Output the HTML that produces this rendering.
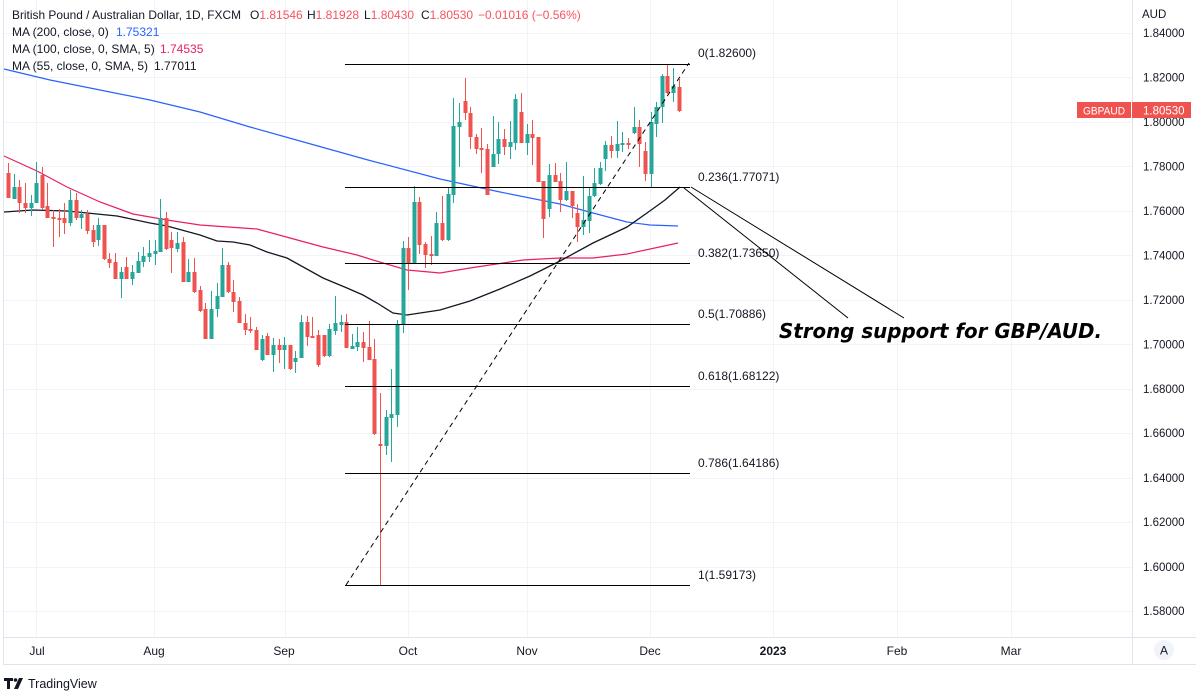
<!DOCTYPE html>
<html><head><meta charset="utf-8"><style>
html,body{margin:0;padding:0;background:#fff;width:1196px;height:695px;overflow:hidden}
svg{display:block}
text{font-family:"Liberation Sans",Arial,sans-serif}
</style></head><body>
<svg width="1196" height="695" viewBox="0 0 1196 695" xmlns="http://www.w3.org/2000/svg">
<rect width="1196" height="695" fill="#fff"/>
<!-- grid -->
<g stroke="#f0f3fa" stroke-width="1">
<path d="M4,33.5H1132M4,77.5H1132M4,122.5H1132M4,166.5H1132M4,211.5H1132M4,255.5H1132M4,300.5H1132M4,344.5H1132M4,389.5H1132M4,433.5H1132M4,478.5H1132M4,522.5H1132M4,567.5H1132M4,611.5H1132"/>
<path d="M36.5,0V637M154.5,0V637M285.5,0V637M408.5,0V637M527.5,0V637M650.5,0V637M773.5,0V637M897.5,0V637M1011.5,0V637"/>
</g>
<!-- frame -->
<g stroke="#e0e3eb" stroke-width="1" fill="none">
<path d="M3.5,0V664.5H1196"/>
<path d="M3,637.5H1196"/>
<path d="M1132.5,0V664"/>
</g>

<!-- MAs -->
<polyline fill="none" stroke="#2962ff" stroke-width="1.2" points="4,69 50,80 100,90 150,100 200,112 250,127 300,141 368,160 440,179 500,192 560,204 593,213 627,222 650,225 678,226"/>
<polyline fill="none" stroke="#e91e63" stroke-width="1.2" points="4,156 37,171 67,187 100,202 133,214 167,220 200,225 257,229 290,238 323,247 357,255 373,260 407,270 440,273 470,268 523,260 560,258 593,258 627,254 678,243"/>
<polyline fill="none" stroke="#131722" stroke-width="1.3" points="4,212 33,210 67,211 87,213 117,216 150,223 167,226 200,235 217,241 233,242 250,245 267,252 287,258 323,278 347,288 363,295 377,303 393,313 407,315 440,310 470,301 500,289 530,276 560,261 593,243 627,227 647,213 665,200 680,187"/>

<!-- green candles -->
<path fill="none" stroke="#26a69a" stroke-width="1" d="M14.5,174V199M31.5,195V216M36.5,162V203M70.5,190V226M81.5,210V229M98.5,218V246M121.5,267V298M132.5,265V285M138.5,252V273M143.5,247V267M149.5,240V262M155.5,240V265M160.5,199V252M177.5,232V252M188.5,259V282M211.5,291V339M217.5,283V317M222.5,248V297M262.5,335V361M273.5,338V372M284.5,337V369M295.5,351V373M301.5,315V358M329.5,324V357M335.5,296V335M341.5,315V332M352.5,334V349M357.5,327V351M386.5,410V455M391.5,369V462M397.5,320V427M403.5,241V333M414.5,186V264M436.5,212V256M448.5,188V241M453.5,98V203M459.5,103V167M493.5,116V167M498.5,122V164M510.5,121V159M515.5,94V150M527.5,124V155M549.5,164V217M566.5,162V201M583.5,176V235M589.5,187V233M594.5,168V197M600.5,162V185M605.5,141V171M617.5,121V158M622.5,132V152M634.5,107V134M651.5,112V187M656.5,102V137M662.5,74V123M673.5,68V102"/>
<path fill="#26a69a" d="M12.5,187h4V199h-4ZM29.5,203h4V208h-4ZM34.5,183h4V203h-4ZM68.5,200h4V223h-4ZM79.5,214h4V218h-4ZM96.5,225h4V240h-4ZM119.5,272h4V279h-4ZM130.5,272h4V279h-4ZM136.5,261h4V273h-4ZM141.5,256h4V262h-4ZM147.5,253h4V257h-4ZM153.5,251h4V254h-4ZM158.5,218h4V252h-4ZM175.5,243h4V249h-4ZM186.5,272h4V282h-4ZM209.5,309h4V339h-4ZM215.5,296h4V309h-4ZM220.5,265h4V297h-4ZM260.5,339h4V360h-4ZM271.5,345h4V355h-4ZM282.5,345h4V350h-4ZM293.5,358h4V362h-4ZM299.5,322h4V358h-4ZM327.5,329h4V356h-4ZM333.5,323h4V331h-4ZM339.5,322h4V325h-4ZM350.5,346h4V349h-4ZM355.5,342h4V347h-4ZM384.5,417h4V446h-4ZM389.5,414h4V418h-4ZM395.5,324h4V415h-4ZM401.5,248h4V325h-4ZM412.5,202h4V264h-4ZM434.5,223h4V256h-4ZM446.5,194h4V240h-4ZM451.5,126h4V195h-4ZM457.5,122h4V127h-4ZM491.5,154h4V167h-4ZM496.5,139h4V154h-4ZM508.5,142h4V147h-4ZM513.5,99h4V143h-4ZM525.5,134h4V143h-4ZM547.5,175h4V209h-4ZM564.5,191h4V200h-4ZM581.5,220h4V227h-4ZM587.5,196h4V221h-4ZM592.5,183h4V196h-4ZM598.5,168h4V184h-4ZM603.5,145h4V159h-4ZM615.5,144h4V151h-4ZM620.5,143h4V145h-4ZM632.5,127h4V133h-4ZM649.5,122h4V174h-4ZM654.5,107h4V124h-4ZM660.5,76h4V107h-4ZM671.5,86h4V93h-4Z"/>

<!-- red candles -->
<path fill="none" stroke="#ef5350" stroke-width="1" d="M8.5,163V198M19.5,180V213M25.5,183V213M42.5,167V210M47.5,183V218M53.5,210V247M59.5,209V237M64.5,203V234M76.5,193V220M87.5,210V234M93.5,225V247M104.5,225V260M109.5,253V268M115.5,253V279M126.5,257V279M166.5,212V250M171.5,232V273M183.5,237V282M194.5,258V293M200.5,286V312M205.5,303V339M228.5,262V293M233.5,280V312M239.5,297V323M245.5,314V335M250.5,317V333M256.5,327V350M267.5,333V355M279.5,339V363M290.5,345V370M307.5,316V346M312.5,317V338M318.5,330V367M324.5,335V357M346.5,314V348M363.5,332V362M369.5,321V360M374.5,339V435M380.5,393V585M408.5,237V290M419.5,197V254M425.5,242V268M431.5,236V265M442.5,196V241M465.5,78V120M470.5,107V149M476.5,134V154M481.5,128V173M487.5,144V195M504.5,129V155M521.5,93V143M532.5,120V165M538.5,137V182M543.5,181V238M555.5,163V182M560.5,173V212M572.5,191V218M577.5,204V242M611.5,136V158M628.5,138V149M639.5,120V167M645.5,142V181M667.5,65V94M679.5,79V112"/>
<path fill="#ef5350" d="M6.5,173h4V198h-4ZM17.5,187h4V203h-4ZM23.5,203h4V208h-4ZM40.5,175h4V208h-4ZM45.5,206h4V218h-4ZM51.5,217h4V219h-4ZM57.5,218h4V220h-4ZM62.5,218h4V223h-4ZM74.5,200h4V218h-4ZM85.5,214h4V231h-4ZM91.5,230h4V242h-4ZM102.5,225h4V259h-4ZM107.5,259h4V263h-4ZM113.5,262h4V279h-4ZM124.5,267h4V279h-4ZM164.5,218h4V249h-4ZM169.5,240h4V248h-4ZM181.5,242h4V282h-4ZM192.5,272h4V292h-4ZM198.5,290h4V311h-4ZM203.5,309h4V339h-4ZM226.5,265h4V292h-4ZM231.5,292h4V302h-4ZM237.5,301h4V323h-4ZM243.5,323h4V330h-4ZM248.5,329h4V331h-4ZM254.5,330h4V350h-4ZM265.5,336h4V355h-4ZM277.5,345h4V350h-4ZM288.5,345h4V369h-4ZM305.5,322h4V337h-4ZM310.5,336h4V338h-4ZM316.5,335h4V365h-4ZM322.5,335h4V356h-4ZM344.5,322h4V348h-4ZM361.5,342h4V348h-4ZM367.5,347h4V360h-4ZM372.5,359h4V434h-4ZM378.5,444h4V446h-4ZM406.5,248h4V263h-4ZM417.5,202h4V245h-4ZM423.5,244h4V255h-4ZM429.5,254h4V256h-4ZM440.5,223h4V240h-4ZM463.5,101h4V113h-4ZM468.5,113h4V137h-4ZM474.5,137h4V149h-4ZM479.5,148h4V150h-4ZM485.5,149h4V195h-4ZM502.5,139h4V147h-4ZM519.5,112h4V143h-4ZM530.5,134h4V138h-4ZM536.5,137h4V182h-4ZM541.5,181h4V219h-4ZM553.5,175h4V182h-4ZM558.5,181h4V200h-4ZM570.5,191h4V206h-4ZM575.5,213h4V227h-4ZM609.5,145h4V151h-4ZM626.5,143h4V145h-4ZM637.5,127h4V144h-4ZM643.5,151h4V174h-4ZM665.5,76h4V93h-4ZM677.5,87h4V111h-4Z"/>

<!-- fib lines -->
<g stroke="#000" stroke-width="1" fill="none">
<path d="M345,64.5H690M345,187.5H690M345,263.5H690M345,324.5H690M345,386.5H690M345,473.5H690M345,585.5H690"/>
<line x1="346" y1="585" x2="689" y2="63" stroke-dasharray="5 4"/>
<line x1="684" y1="188" x2="848" y2="318"/>
<line x1="691" y1="187" x2="904" y2="318"/>
</g>
<g font-size="12" fill="#131722">
<text x="698" y="57">0(1.82600)</text>
<text x="698" y="181">0.236(1.77071)</text>
<text x="698" y="257">0.382(1.73650)</text>
<text x="698" y="318">0.5(1.70886)</text>
<text x="698" y="380">0.618(1.68122)</text>
<text x="698" y="467">0.786(1.64186)</text>
<text x="698" y="579">1(1.59173)</text>
</g>
<text x="779" y="338" font-family="'DejaVu Sans',Verdana,sans-serif" font-weight="bold" font-style="italic" font-size="20" fill="#000" textLength="323" lengthAdjust="spacingAndGlyphs" style="font-family:'DejaVu Sans',Verdana,sans-serif">Strong support for GBP/AUD.</text>

<!-- legend -->
<g font-size="12" fill="#131722">
<text x="12" y="19" textLength="229" lengthAdjust="spacingAndGlyphs">British Pound / Australian Dollar, 1D, FXCM</text>
<text y="19"><tspan x="250">O</tspan><tspan fill="#f7525f">1.81546</tspan><tspan x="307">H</tspan><tspan fill="#f7525f">1.81928</tspan><tspan x="364">L</tspan><tspan fill="#f7525f">1.80430</tspan><tspan x="421">C</tspan><tspan fill="#f7525f">1.80530</tspan><tspan x="478" fill="#f7525f">−0.01016 (−0.56%)</tspan></text>
<text x="12" y="36">MA (200, close, 0)</text>
<text x="116" y="36" fill="#2962ff">1.75321</text>
<text x="12" y="53">MA (100, close, 0, SMA, 5)</text>
<text x="160" y="53" fill="#e91e63">1.74535</text>
<text x="12" y="70">MA (55, close, 0, SMA, 5)</text>
<text x="154" y="70">1.77011</text>
</g>

<!-- price axis -->
<g font-size="11.5" fill="#131722">
<text x="1142" y="18">AUD</text>
<text x="1143" y="37">1.84000</text>
<text x="1143" y="81.5">1.82000</text>
<text x="1143" y="126">1.80000</text>
<text x="1143" y="170.5">1.78000</text>
<text x="1143" y="215">1.76000</text>
<text x="1143" y="259.5">1.74000</text>
<text x="1143" y="304">1.72000</text>
<text x="1143" y="348.5">1.70000</text>
<text x="1143" y="393">1.68000</text>
<text x="1143" y="437">1.66000</text>
<text x="1143" y="482">1.64000</text>
<text x="1143" y="526">1.62000</text>
<text x="1143" y="571">1.60000</text>
<text x="1143" y="615">1.58000</text>
</g>
<rect x="1077" y="102" width="54" height="16" fill="#ef5350"/>
<rect x="1132" y="102" width="59" height="16" fill="#ef5350"/>
<text x="1083" y="114.5" font-size="11" fill="#fff" textLength="42" lengthAdjust="spacingAndGlyphs">GBPAUD</text>
<text x="1143" y="114.5" font-size="11.5" fill="#fff">1.80530</text>

<!-- time axis -->
<g font-size="12" fill="#131722" text-anchor="middle">
<text x="37" y="655">Jul</text>
<text x="154" y="655">Aug</text>
<text x="284" y="655">Sep</text>
<text x="408" y="655">Oct</text>
<text x="527" y="655">Nov</text>
<text x="650" y="655">Dec</text>
<text x="773" y="655" font-weight="bold">2023</text>
<text x="897" y="655">Feb</text>
<text x="1011" y="655">Mar</text>
</g>
<circle cx="1164" cy="650" r="10" fill="#f0f3fa"/>
<text x="1164" y="654.5" font-size="12" fill="#131722" text-anchor="middle">A</text>

<!-- logo -->
<g fill="#131722">
<path d="M4,678h9v3h-3v8h-3v-8h-3Z"/>
<circle cx="15.5" cy="680" r="1.8"/>
<path d="M19,678h4l-5,11h-4Z"/>
</g>
<text x="28" y="688" font-size="12.5" fill="#131722">TradingView</text>
</svg>
</body></html>
